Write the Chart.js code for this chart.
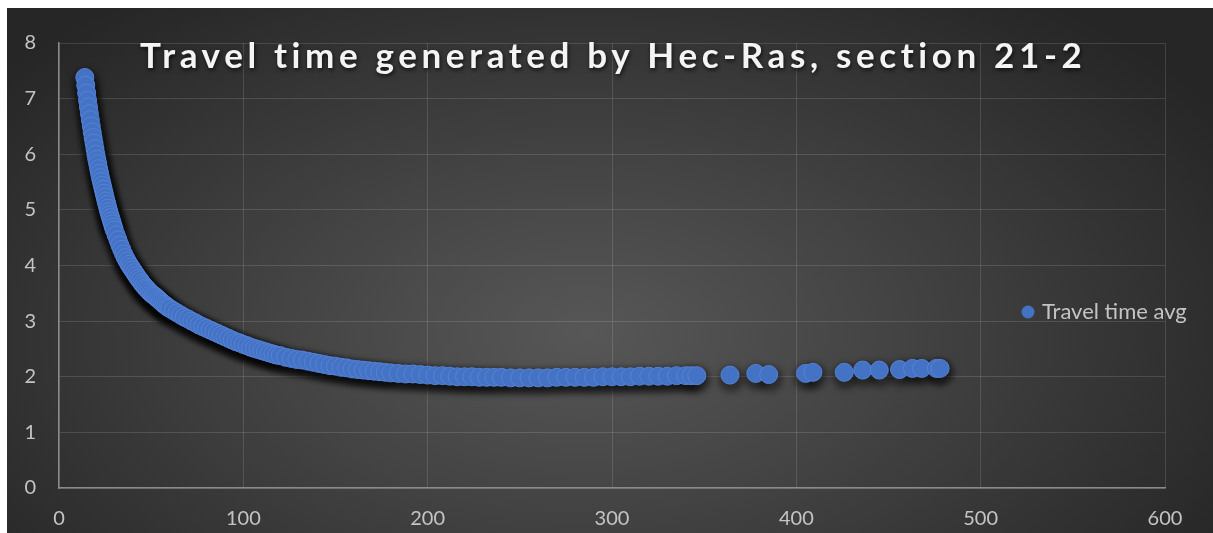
<!DOCTYPE html>
<html>
<head>
<meta charset="utf-8">
<script src="https://cdn.jsdelivr.net/npm/chart.js@4.4.0/dist/chart.umd.min.js"></script>
<style>
    body { margin: 0; background: #ffffff; }
    #wrap {
        position: absolute; left: 7px; top: 8px; width: 1206px; height: 525px;
        background: radial-gradient(ellipse 62% 80% at 48% 62%, #575757 0%, #444444 40%, #262626 100%);
    }
</style>
</head>
<body>
<div id="wrap"><canvas id="myChart"></canvas></div>
<script>
    // values
    const chartTitle = 'Travel time generated by Hec-Ras, section 21-2';
    const seriesName = 'Travel time avg';

    const xValues = [
        14.0, 14.5, 15.0, 15.5, 16.0, 16.5, 17.0, 17.5, 18.0, 18.5, 19.0, 19.5, 20.0, 20.5, 21.0, 21.5,
        22.0, 22.5, 23.0, 23.5, 24.0, 24.5, 25.0, 25.5, 26.0, 26.5, 27.0, 27.5, 28.0, 28.5, 29.0, 29.5, 30.0,
        31, 32, 33, 34, 35, 36, 37, 38, 39, 40, 41, 42, 43, 44, 45, 46, 47, 48, 49, 50,
        51, 52, 53, 54, 55, 56, 57, 58, 59, 60,
        62, 64, 66, 68, 70, 72, 74, 76, 78, 80, 82, 84, 86, 88, 90, 92, 94, 96, 98, 100,
        102, 104, 106, 108, 110, 112, 114, 116, 118, 120,
        123, 126, 129, 132, 135, 138, 141, 144, 147, 150, 153, 156, 159, 162, 165, 168, 171, 174, 177, 180,
        184, 188, 192, 196, 200,
        204, 208, 212, 216, 220, 224, 228, 232, 236, 240, 245, 250, 255, 260, 265, 270, 275, 280, 285, 290,
        295, 300, 305, 310, 315, 320, 325, 330, 335, 340, 343, 346,
        364, 378, 385, 405, 409, 426, 436, 445, 456, 463, 468, 476, 478
    ];
    const yValues = [
        7.38, 7.24, 7.10, 6.97, 6.85, 6.73, 6.62, 6.51, 6.40, 6.30, 6.20, 6.10, 6.00, 5.91, 5.83, 5.74,
        5.66, 5.58, 5.51, 5.44, 5.37, 5.30, 5.23, 5.16, 5.10, 5.03, 4.97, 4.91, 4.86, 4.80, 4.75, 4.69, 4.64,
        4.55, 4.46, 4.37, 4.29, 4.21, 4.14, 4.08, 4.02, 3.97, 3.92, 3.87, 3.82, 3.77, 3.73, 3.68, 3.64, 3.60, 3.57, 3.53, 3.50,
        3.47, 3.45, 3.42, 3.39, 3.36, 3.33, 3.30, 3.28, 3.25, 3.23,
        3.19, 3.15, 3.11, 3.07, 3.04, 3.00, 2.97, 2.93, 2.90, 2.87, 2.84, 2.81, 2.78, 2.75, 2.72, 2.69, 2.66, 2.63, 2.61, 2.58,
        2.56, 2.53, 2.51, 2.49, 2.47, 2.45, 2.43, 2.41, 2.39, 2.38,
        2.35, 2.33, 2.31, 2.30, 2.28, 2.26, 2.24, 2.22, 2.20, 2.19, 2.17, 2.16, 2.14, 2.13, 2.12, 2.11, 2.10, 2.09, 2.08, 2.07,
        2.06, 2.05, 2.05, 2.04, 2.03,
        2.02, 2.02, 2.01, 2.00, 2.00, 2.00, 1.99, 1.99, 1.99, 1.99, 1.98, 1.98, 1.98, 1.98, 1.98, 1.99, 1.99, 1.99, 1.99, 1.99,
        2.00, 2.00, 2.00, 2.00, 2.01, 2.01, 2.01, 2.01, 2.02, 2.02, 2.02, 2.02,
        2.03, 2.06, 2.04, 2.06, 2.08, 2.08, 2.12, 2.12, 2.13, 2.15, 2.15, 2.15, 2.15
    ];

    const xTicks = [0, 100, 200, 300, 400, 500, 600];
    const yTicks = [0, 1, 2, 3, 4, 5, 6, 7, 8];

    const labelColor = '#c4c4c4';
    const markerColor = '#4472c4';

    // shadows under the markers (drawn before the points), they pile up where points are dense
    const markerShadow = {
        id: 'markerShadow',
        beforeDatasetsDraw(chart) {
            const ctx = chart.ctx;
            const meta = chart.getDatasetMeta(0);
            ctx.save();
            ctx.filter = 'blur(3px)';
            ctx.fillStyle = 'rgba(0,0,0,0.4)';
            meta.data.forEach(function (p) {
                ctx.beginPath();
                ctx.arc(p.x + 1, p.y + 4, 13, 0, Math.PI * 2);
                ctx.fill();
            });
            ctx.restore();
        }
    };

    // title and legend sit on top of the plot area, like in the excel chart
    const overlay = {
        id: 'overlay',
        afterDraw(chart) {
            const ctx = chart.ctx;
            ctx.save();
            ctx.font = 'bold 35px Lato';
            ctx.letterSpacing = '0px';
            const w = ctx.measureText(chartTitle).width;
            const gap = (943 - w) / (chartTitle.length - 1);
            ctx.letterSpacing = gap + 'px';
            ctx.textAlign = 'center';
            ctx.textBaseline = 'alphabetic';
            ctx.shadowColor = 'rgba(0,0,0,0.7)';
            ctx.shadowBlur = 4;
            ctx.shadowOffsetX = 1;
            ctx.shadowOffsetY = 2;
            ctx.fillStyle = '#f4f4f4';
            ctx.fillText(chartTitle, 604 + gap / 2, 60);
            ctx.restore();

            ctx.save();
            ctx.fillStyle = markerColor;
            ctx.beginPath();
            ctx.arc(1021, 304, 6.5, 0, Math.PI * 2);
            ctx.fill();
            ctx.font = '22px Lato';
            ctx.fillStyle = labelColor;
            ctx.textBaseline = 'middle';
            ctx.fillText(chart.data.datasets[0].label, 1035, 304);
            ctx.restore();
        }
    };

    const data = {
        datasets: [{
            label: seriesName,
            data: xValues.map(function (x, i) { return { x: x, y: yValues[i] }; }),
            backgroundColor: markerColor,
            borderColor: '#5583d6',
            borderWidth: 1,
            pointRadius: 9
        }]
    };

    const config = {
        type: 'scatter',
        data,
        options: {
            responsive: true,
            maintainAspectRatio: false,
            animation: false,
            layout: { padding: { top: 35, right: 48, left: 0, bottom: 0 } },
            plugins: {
                legend: { display: false },
                tooltip: { enabled: false }
            },
            scales: {
                x: {
                    type: 'linear',
                    min: xTicks[0],
                    max: xTicks[xTicks.length - 1],
                    afterBuildTicks: function (scale) { scale.ticks = xTicks.map(function (v) { return { value: v }; }); },
                    afterFit: function (scale) { scale.height = 45; },
                    ticks: { color: labelColor, font: { family: 'Lato', size: 20 }, padding: 19, maxRotation: 0 },
                    grid: { color: 'rgba(255,255,255,0.13)', drawTicks: false },
                    border: { color: '#8a8a8a', width: 1.5 }
                },
                y: {
                    min: yTicks[0],
                    max: yTicks[yTicks.length - 1],
                    afterBuildTicks: function (scale) { scale.ticks = yTicks.map(function (v) { return { value: v }; }); },
                    afterFit: function (scale) { scale.width = 52; },
                    ticks: { color: labelColor, font: { family: 'Lato', size: 20 }, padding: 23 },
                    grid: { color: 'rgba(255,255,255,0.13)', drawTicks: false },
                    border: { color: '#8a8a8a', width: 1.5 }
                }
            }
        },
        plugins: [markerShadow, overlay]
    };

    const myChart = new Chart(
        document.getElementById('myChart'),
        config
    );
</script>
</body>
</html>
